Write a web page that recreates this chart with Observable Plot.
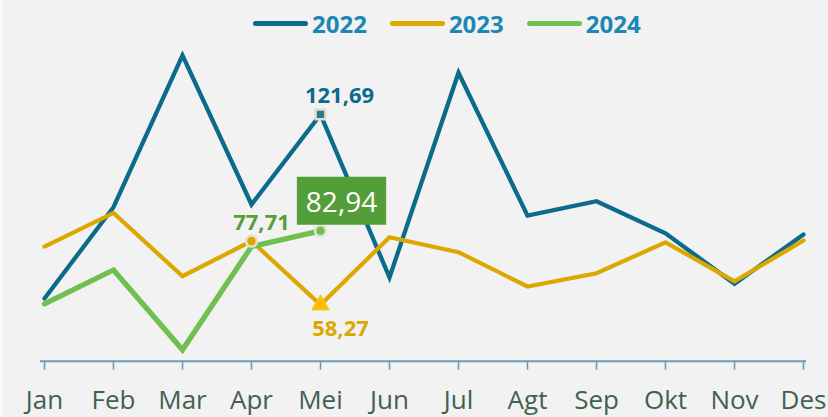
<!DOCTYPE html>
<html><head><meta charset="utf-8">
<script src="https://cdn.jsdelivr.net/npm/d3@7"></script>
<script src="https://cdn.jsdelivr.net/npm/@observablehq/plot@0.6"></script>
<style>
html,body{margin:0;padding:0;width:828px;height:417px;overflow:hidden;font-family:"Open Sans",sans-serif;
  background:linear-gradient(to right,#f9f9f9 0,#f9f9f9 3px,#f2f2f2 3px)}
#legend{height:40px;display:flex;align-items:center;padding-left:253px;box-sizing:border-box;padding-top:7px}
.item{display:flex;align-items:center;margin-right:23px}
.sw{width:55px;height:5px;border-radius:3px;margin-right:4px}
.lt{font-weight:700;font-size:24px;color:#1a88b2;line-height:1}
#chart svg{display:block}
</style></head><body>
<div id="legend"></div>
<div id="chart"></div>
<script>
const months = ["Jan","Feb","Mar","Apr","Mei","Jun","Jul","Agt","Sep","Okt","Nov","Des"];
const years = ["2022","2023","2024"];
const values2022 = [60.4, 90.8, 141.4, 91.7, 121.69, 67.4, 135.6, 88.0, 92.8, 82.1, 65.3, 81.7];
const values2023 = [77.7, 88.9, 67.8, 79.5, 58.27, 80.8, 75.8, 64.4, 68.8, 79.1, 66.1, 79.7];
const values2024 = [58.6, 69.9, 43.3, 77.71, 82.94];
const colors = ["#0c6a8a", "#dca800", "#70c04f"];
const yDomain = [39.5, 145];

// legend
const legend = document.getElementById("legend");
years.forEach((y, i) => {
  const it = document.createElement("div"); it.className = "item";
  it.innerHTML = `<span class="sw" style="background:${colors[i]}"></span><span class="lt">${y}</span>`;
  legend.appendChild(it);
});

const series = [values2022, values2023, values2024].map((vals, i) =>
  vals.map((v, j) => ({month: months[j], value: v, year: years[i]})));
const [d22, d23, d24] = series;
const fmt = v => v.toFixed(2).replace(".", ",");
const at = (d, m) => d.filter(r => r.month === m);

const axisColor = "#6b9bb8";
const labelColor = "#43604f";

const chart = Plot.plot({
  width: 828, height: 377,
  marginLeft: 40, marginRight: 22, marginTop: 4, marginBottom: 56.3,
  style: {background: "transparent", fontFamily: "Open Sans, sans-serif", overflow: "visible"},
  x: {type: "point", domain: months, padding: 0},
  y: {domain: yDomain, axis: null},
  marks: [
    Plot.ruleY([yDomain[0]], {stroke: axisColor, strokeWidth: 2}),
    Plot.axisX({tickSize: 9, tickPadding: 20, stroke: axisColor, strokeWidth: 1.6, fill: labelColor, fontSize: 26, label: null}),
    Plot.line(d22, {x: "month", y: "value", stroke: colors[0], strokeWidth: 4.3, strokeLinejoin: "miter", strokeMiterlimit: 4}),
    Plot.line(d23, {x: "month", y: "value", stroke: colors[1], strokeWidth: 4.2, strokeLinejoin: "miter", strokeMiterlimit: 4}),
    Plot.line(d24, {x: "month", y: "value", stroke: colors[2], strokeWidth: 5.3, strokeLinejoin: "miter", strokeMiterlimit: 4}),
    // markers
    Plot.dot(at(d22, "Mei"), {x: "month", y: "value", symbol: "square", r: 5.5, fill: "#2a7a8c", stroke: "#e2ddd0", strokeWidth: 2.5}),
    Plot.dot(at(d23, "Mei"), {x: "month", y: "value", symbol: "triangle", r: 6.5, fill: "#ffbf00", stroke: "#f3c43a", strokeWidth: 1}),
    Plot.dot(at(d23, "Apr"), {x: "month", y: "value", r: 5.5, fill: "#dca800", stroke: "#e6e1d4", strokeWidth: 2.5}),
    Plot.dot(at(d24, "Mei"), {x: "month", y: "value", r: 5.5, fill: "#70c04f", stroke: "#e6e1d4", strokeWidth: 2.5}),
    // labels
    Plot.text(at(d22, "Mei"), {x: "month", y: "value", text: d => fmt(d.value), dx: 19, dy: -19, fill: "#0c6a8a", fontWeight: 700, fontSize: 22}),
    Plot.text(at(d23, "Mei"), {x: "month", y: "value", text: d => fmt(d.value), dx: 20, dy: 24, fill: "#dca800", fontWeight: 700, fontSize: 22}),
    Plot.text(at(d24, "Apr"), {x: "month", y: "value", text: d => fmt(d.value), dx: 10, dy: -24, fill: "#5a9e3a", fontWeight: 700, fontSize: 22}),
    Plot.text(at(d24, "Mei"), {x: "month", y: "value", text: d => fmt(d.value), dx: 21, dy: -28, fill: "white", fontSize: 28, className: "boxlabel"})
  ]
});
document.getElementById("chart").appendChild(chart);

// green box behind the highlighted label, sized from the text itself
document.querySelectorAll("g.boxlabel text").forEach(t => {
  const b = t.getBBox();
  const r = document.createElementNS("http://www.w3.org/2000/svg", "rect");
  const tr = t.getAttribute("transform");
  if (tr) r.setAttribute("transform", tr);
  r.setAttribute("x", b.x - 9);
  r.setAttribute("y", b.y - 5);
  r.setAttribute("width", b.width + 18);
  r.setAttribute("height", b.height + 10);
  r.setAttribute("fill", "#549e39");
  t.parentNode.insertBefore(r, t);
});
</script>
</body></html>
